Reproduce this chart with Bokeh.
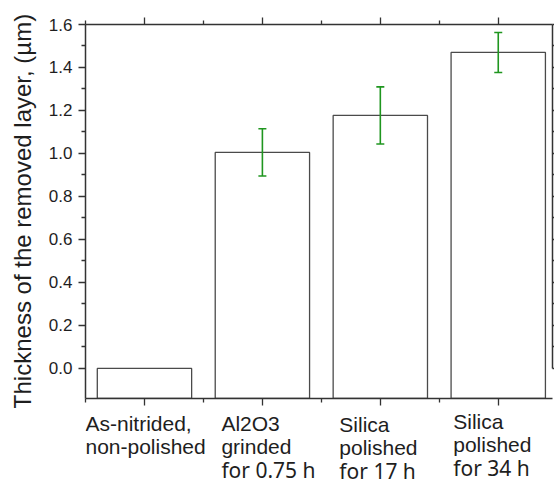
from bokeh.plotting import figure
from bokeh.layouts import column
from bokeh.models import (Range1d, LinearAxis, FixedTicker, ColumnDataSource,
                          Whisker, TeeHead, PrintfTickFormatter, CustomJSTickFormatter)
from bokeh.core.properties import value
from bokeh.embed import file_html
from bokeh.resources import INLINE

# ---------------- data ----------------
categories = ["As-nitrided, non-polished", "Al2O3 grinded for 0.75 h",
              "Silica polished for 17 h", "Silica polished for 34 h"]
label_lines = [["As-nitrided,", "non-polished"],
               ["Al2O3", "grinded", "for 0.75 h"],
               ["Silica", "polished", "for 17 h"],
               ["Silica", "polished", "for 34 h"]]
positions = [1, 2, 3, 4]
thickness = [0.0, 1.005, 1.177, 1.47]
thickness_err = [None, 0.11, 0.133, 0.093]
y_ticks = [0.0, 0.2, 0.4, 0.6, 0.8, 1.0, 1.2, 1.4, 1.6]
y_minor_ticks = [0.1, 0.3, 0.5, 0.7, 0.9, 1.1, 1.3, 1.5]
x_minor_ticks = [0.5, 1.5, 2.5, 3.5]
side_ticks = [0.0, 0.1, 0.2, 0.3, 0.4, 0.5, 0.6, 0.7, 0.8, 0.9, 1.0,
              1.1, 1.2, 1.3, 1.4, 1.5, 1.6]

# ---------------- style / layout ----------------
FONT = "Liberation Sans"
FONT3 = "Noto Sans"
AXIS_COLOR = "#333333"
TEXT_COLOR = "#1e1e1e"
GREEN = "#1f961f"
W = 554
H_TOTAL = 485
BORDER_L, BORDER_R, BORDER_T, BORDER_B = 85, 2, 24, 10
FRAME_H = 374
H1 = BORDER_T + FRAME_H + BORDER_B
H2 = H_TOTAL - H1
x_lo, x_hi = 0.5, 4.46
y_floor, y_top = -0.14, 1.6
label_dx = [-59, -41, -41, -45]
label_dy = [0, 0, 1, -2]
line_base = [32, 55, 78]   # baseline distance below the frame bottom, px
BASELINE_FIX = 7           # text glyph anchor correction, px

p = figure(width=W, height=H1,
           x_range=Range1d(x_lo, x_hi), y_range=Range1d(y_floor, y_top),
           output_backend="svg", toolbar_location=None,
           x_axis_location=None, y_axis_location=None,
           min_border_left=BORDER_L, min_border_right=BORDER_R,
           min_border_top=BORDER_T, min_border_bottom=BORDER_B)
p.title.visible = False
p.outline_line_color = None
p.background_fill_color = "white"
p.border_fill_color = "white"
p.grid.visible = False

blank = CustomJSTickFormatter(code="return ''")


def style_axis(ax, major_out, minor_out):
    ax.axis_line_color = AXIS_COLOR
    ax.axis_line_width = 1.5
    ax.major_tick_line_color = AXIS_COLOR
    ax.minor_tick_line_color = AXIS_COLOR
    ax.major_tick_line_width = 1.3
    ax.minor_tick_line_width = 1.3
    ax.major_tick_in = 0
    ax.minor_tick_in = 0
    ax.major_tick_out = major_out
    ax.minor_tick_out = minor_out


# left axis
yax = LinearAxis(ticker=FixedTicker(ticks=y_ticks, minor_ticks=y_minor_ticks),
                 formatter=PrintfTickFormatter(format="%.1f"),
                 axis_label="Thickness of the removed layer, (µm)")
style_axis(yax, 7, 4)
yax.major_label_text_font = FONT
yax.major_label_text_font_size = "17px"
yax.major_label_text_color = TEXT_COLOR
yax.major_label_standoff = 6
yax.axis_label_text_font = FONT
yax.axis_label_text_font_size = "24px"
yax.axis_label_text_font_style = "normal"
yax.axis_label_text_color = TEXT_COLOR
yax.axis_label_standoff = 10
p.add_layout(yax, "left")

# bottom and top axes (category labels drawn separately below)
for loc in ("below", "above"):
    xax = LinearAxis(ticker=FixedTicker(ticks=positions, minor_ticks=x_minor_ticks),
                     formatter=blank)
    style_axis(xax, 7, 4)
    xax.major_label_text_font_size = "0px"
    xax.major_label_standoff = 0
    p.add_layout(xax, loc)

# neighbouring panel's axis at the right edge
rax = LinearAxis(ticker=FixedTicker(ticks=side_ticks, minor_ticks=[]),
                 formatter=blank, bounds=(0.0, 1.6))
style_axis(rax, 2, 0)
rax.major_label_text_font_size = "0px"
rax.major_label_standoff = 0
p.add_layout(rax, "right")

# bars
p.vbar(x=positions, width=0.8, top=thickness, bottom=y_floor,
       fill_color="white", line_color="#4a4a4a", line_width=1.3)

# error bars
ex = [x for x, e in zip(positions, thickness_err) if e is not None]
eu = [v + e for v, e in zip(thickness, thickness_err) if e is not None]
el = [v - e for v, e in zip(thickness, thickness_err) if e is not None]
src = ColumnDataSource(dict(x=ex, upper=eu, lower=el))
wh = Whisker(base="x", upper="upper", lower="lower", source=src,
             line_color=GREEN, line_width=1.6,
             upper_head=TeeHead(size=8, line_color=GREEN, line_width=1.6),
             lower_head=TeeHead(size=8, line_color=GREEN, line_width=1.6))
wh.level = "overlay"
p.add_layout(wh)

# ---------------- category labels strip (same x scale as the chart) ----------------
ppu = (W - BORDER_L - BORDER_R) / (x_hi - x_lo)
p2 = figure(width=W, height=H2,
            x_range=p.x_range, y_range=Range1d(-H2, 0),
            output_backend="svg", toolbar_location=None,
            x_axis_location=None, y_axis_location=None,
            min_border_left=BORDER_L, min_border_right=BORDER_R,
            min_border_top=0, min_border_bottom=0)
p2.title.visible = False
p2.grid.visible = False
p2.outline_line_color = None
p2.background_fill_color = "white"
p2.border_fill_color = "white"

gap = H1 - BORDER_T - FRAME_H   # distance from frame bottom to strip top
rows = {0: dict(x=[], y=[], t=[]), 1: dict(x=[], y=[], t=[])}
for i, lines in enumerate(label_lines):
    for j, t in enumerate(lines):
        r = rows[0 if j < 2 else 1]
        r["x"].append(positions[i] + label_dx[i] / ppu)
        r["y"].append(-(line_base[j] + label_dy[i] - gap) + BASELINE_FIX)
        r["t"].append(t)

for k, (font, size) in enumerate([(FONT, "21px"), (FONT3, "21px")]):
    s = ColumnDataSource(rows[k])
    p2.text(x="x", y="y", text="t", source=s,
            text_font=value(font), text_font_size=value(size),
            text_align="left", text_baseline="alphabetic",
            text_color=TEXT_COLOR)

layout = column(p, p2, spacing=0)
open("out.html", "w").write(file_html(layout, INLINE))
